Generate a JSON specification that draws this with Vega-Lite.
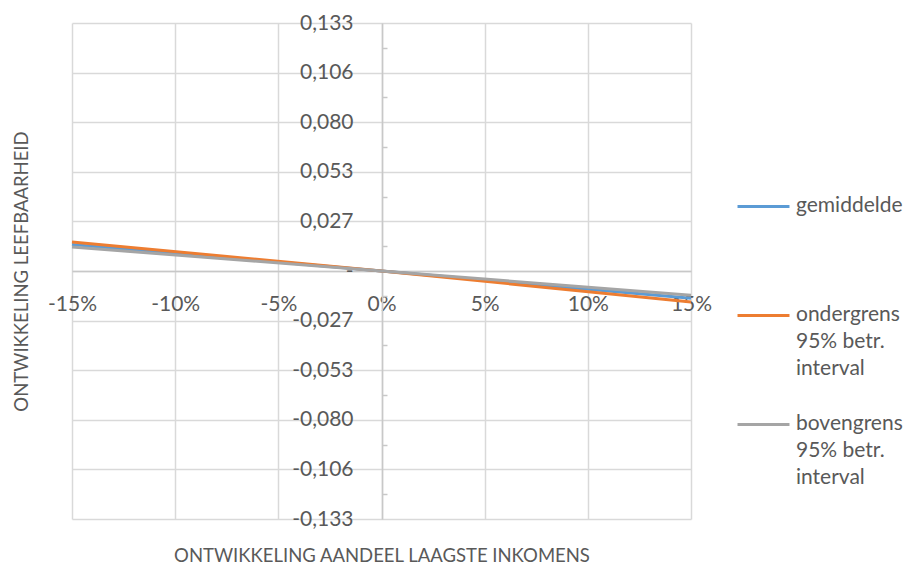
{
  "$schema": "https://vega.github.io/schema/vega-lite/v6.json",
  "width": 619,
  "height": 496,
  "autosize": {"type": "none"},
  "padding": {"left": 72, "top": 23, "right": 221, "bottom": 48},
  "background": "white",
  "config": {
    "view": {"stroke": null},
    "font": "Lato",
    "axis": {"labelFont": "Lato", "titleFont": "Lato", "labelColor": "#595959", "titleColor": "#595959", "titleFontWeight": "normal", "gridColor": "#D9D9D9", "gridWidth": 1.5}
  },
  "data": {
    "values": [
      {"serie": "gemiddelde|95|", "x": -0.15, "y": 0.0142},
      {"serie": "gemiddelde|95|", "x": 0, "y": 0},
      {"serie": "gemiddelde|95|", "x": 0.15, "y": -0.0146},
      {"serie": "ondergrens|95% betr.|interval", "x": -0.15, "y": 0.0156},
      {"serie": "ondergrens|95% betr.|interval", "x": 0, "y": 0},
      {"serie": "ondergrens|95% betr.|interval", "x": 0.15, "y": -0.0166},
      {"serie": "bovengrens|95% betr.|interval", "x": -0.15, "y": 0.0129},
      {"serie": "bovengrens|95% betr.|interval", "x": 0, "y": 0},
      {"serie": "bovengrens|95% betr.|interval", "x": 0.15, "y": -0.0130}
    ]
  },
  "layer": [
    {
      "mark": {"type": "line", "strokeWidth": 3},
      "encoding": {
        "x": {"field": "x", "type": "quantitative", "scale": {"domain": [-0.15, 0.15], "nice": false, "zero": false},
          "axis": {"orient": "bottom", "values": [-0.15, -0.1, -0.05, 0, 0.05, 0.1, 0.15], "grid": true, "labels": false, "ticks": false, "domain": false, "title": "ONTWIKKELING AANDEEL LAAGSTE INKOMENS", "titleFontSize": 18.5, "titlePadding": 27}},
        "y": {"field": "y", "type": "quantitative", "scale": {"domain": [-0.133, 0.133], "nice": false, "zero": false},
          "axis": {"orient": "left", "values": [-0.133, -0.1064, -0.0798, -0.0532, -0.0266, 0, 0.0266, 0.0532, 0.0798, 0.1064, 0.133], "grid": true, "labels": false, "ticks": false, "domain": false, "title": "ONTWIKKELING LEEFBAARHEID", "titleFontSize": 18.5, "titlePadding": 41}},
        "color": {"field": "serie", "type": "nominal",
          "scale": {"domain": ["gemiddelde|95|", "ondergrens|95% betr.|interval", "bovengrens|95% betr.|interval"], "range": ["#5B9BD5", "#ED7D31", "#A5A5A5"]},
          "legend": {"title": null, "orient": "none", "legendX": 664, "legendY": 156, "padding": 0, "symbolType": "stroke", "symbolSize": 2700, "symbolStrokeWidth": 3, "labelFont": "Lato", "labelFontSize": 21, "labelColor": "#595959", "labelBaseline": "top", "labelLimit": 250, "labelOffset": 5, "rowPadding": 18,
            "labelExpr": "datum.label == 'gemiddelde|95|' ? ['gemiddelde', '', ''] : split(datum.label, '|')",
            "encode": {"labels": {"update": {"dy": {"value": -12}, "lineHeight": {"value": 27}}}}}}
      }
    },
    {
      "mark": {"type": "point", "opacity": 0},
      "encoding": {
        "x": {"field": "x", "type": "quantitative", "scale": {"domain": [-0.15, 0.15], "nice": false, "zero": false},
          "axis": {"orient": "bottom", "offset": -248, "values": [-0.15, -0.1, -0.05, 0, 0.05, 0.1, 0.15], "grid": false, "ticks": false, "domain": true, "domainColor": "#C8C8C8", "domainWidth": 1.5, "labelFontSize": 21, "labelPadding": 22, "labelBaseline": "top", "labelFlush": false, "labelOverlap": false, "title": null,
            "labelExpr": "replace(format(datum.value, '.0%'), '\u2212', '-')"}},
        "y": {"field": "y", "type": "quantitative", "scale": {"domain": [-0.133, 0.133], "nice": false, "zero": false},
          "axis": {"orient": "left", "offset": -310, "values": [-0.133, -0.1064, -0.0798, -0.0532, -0.0266, 0, 0.0266, 0.0532, 0.0798, 0.1064, 0.133], "grid": false, "ticks": false, "domain": true, "domainColor": "#C8C8C8", "domainWidth": 1.5, "labelFontSize": 21, "labelPadding": 29, "labelFlush": false, "labelOverlap": false, "title": null,
            "labelExpr": "datum.value == 0 ? '-\u00a0\u00a0\u00a0\u00a0\u00a0\u00a0' : replace(replace(format(datum.value, '.3f'), '.', ','), '\u2212', '-')"}}
      }
    },
    {
      "mark": {"type": "point", "opacity": 0},
      "encoding": {
        "x": {"field": "x", "type": "quantitative", "scale": {"domain": [-0.15, 0.15], "nice": false, "zero": false}, "axis": null},
        "y": {"field": "y", "type": "quantitative", "scale": {"domain": [-0.133, 0.133], "nice": false, "zero": false},
          "axis": {"orient": "left", "offset": -310, "values": [-0.1197, -0.0931, -0.0665, -0.0399, -0.0133, 0.0133, 0.0399, 0.0665, 0.0931, 0.1197], "grid": false, "labels": false, "ticks": true, "tickSize": -5, "tickColor": "#C8C8C8", "tickWidth": 1.5, "domain": false, "title": null}}
      }
    }
  ],
  "resolve": {"axis": {"x": "independent", "y": "independent"}}
}
